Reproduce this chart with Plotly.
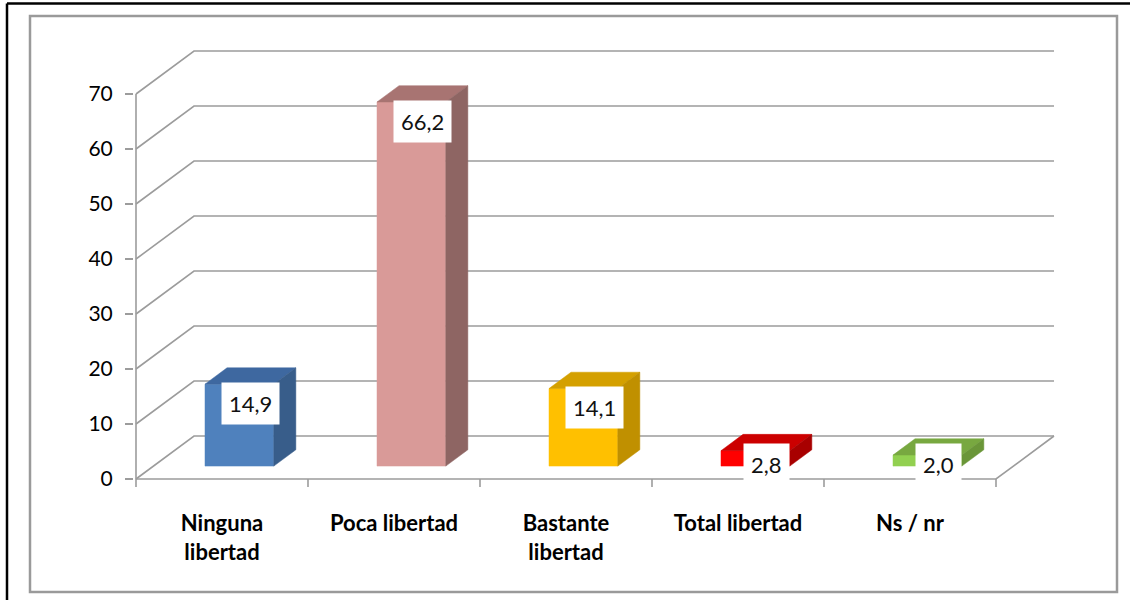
import plotly.graph_objects as go

# ---------------- data ----------------
categories = ["Ninguna<br>libertad", "Poca libertad", "Bastante<br>libertad", "Total libertad", "Ns / nr"]
values = [14.9, 66.2, 14.1, 2.8, 2.0]
value_labels = ["14,9", "66,2", "14,1", "2,8", "2,0"]
y_ticks = [0, 10, 20, 30, 40, 50, 60, 70]

front_colors = ["#4F81BD", "#D99A98", "#FFC000", "#FF0000", "#92D050"]
top_colors = ["#3E68A0", "#A87472", "#D4A000", "#CC0000", "#78A840"]
side_colors = ["#385D8A", "#8E6563", "#C09000", "#A80000", "#6A9638"]

# ---------------- geometry (pixels -> axis units) ----------------
W, H = 1130, 600
PX0, PY0 = 136, 479          # pixel position of x=0, y=0 (front plane)
UX, UY = 172.0, 5.5          # pixels per category, pixels per value unit
DX, DY = 58 / UX, 43 / UY    # wall depth offset in axis units
BAR_D0, BAR_D1 = 0.30, 0.68  # bar front / back depth as fraction of wall depth
GAP, BW = 0.30, 0.40         # bar left gap / width inside category
GRID = "#9C9C9C"
FONT = "Lato, Carlito, Calibri, sans-serif"

plot_l, plot_r = 134, 1058
plot_t, plot_b = 50, 488
xr = [(plot_l - PX0) / UX, (plot_r - PX0) / UX]
yr = [(PY0 - plot_b) / UY, (PY0 - plot_t) / UY]

n = len(categories)
fig = go.Figure()

# walls / gridlines
gx, gy = [], []
for v in y_ticks:
    gx += [0, DX, n + DX, None]
    gy += [v, v + DY, v + DY, None]
# floor front edge and right edge
gx += [0, n, n + DX, None]
gy += [0, 0, DY, None]
# vertical axis line (front)
gx += [0, 0, None]
gy += [0, max(y_ticks), None]
# category boundary ticks
for i in range(n + 1):
    gx += [i, i, None]
    gy += [0, -8 / UY, None]
fig.add_trace(go.Scatter(x=gx, y=gy, mode="lines", line=dict(color=GRID, width=1.6),
                         hoverinfo="skip", showlegend=False))

ddx = (BAR_D1 - BAR_D0) * DX
ddy = (BAR_D1 - BAR_D0) * DY
base = BAR_D0 * DY
for i, v in enumerate(values):
    x0 = i + GAP + BAR_D0 * DX
    x1 = x0 + BW
    top = base + v
    faces = [
        ([x0, x1, x1, x0, x0], [base, base, top, top, base], front_colors[i]),
        ([x0, x1, x1 + ddx, x0 + ddx, x0], [top, top, top + ddy, top + ddy, top], top_colors[i]),
        ([x1, x1 + ddx, x1 + ddx, x1, x1], [base, base + ddy, top + ddy, top, base], side_colors[i]),
    ]
    for fx, fy, c in faces:
        fig.add_trace(go.Scatter(x=fx, y=fy, mode="lines", fill="toself", fillcolor=c,
                                 line=dict(color=c, width=0.5), hoverinfo="skip",
                                 showlegend=False))
    fig.add_annotation(x=(x0 + x1) / 2 + ddx / 2, y=max(top - 3.5, 2.6),
                       xref="x", yref="y", text=value_labels[i], showarrow=False,
                       bgcolor="white", borderpad=7,
                       font=dict(family=FONT, size=22, color="#111"))

# frames (paper coordinates derived from pixels)
pw, ph = plot_r - plot_l, plot_b - plot_t
def px(x):
    return (x - plot_l) / pw
def py(y):
    return (plot_b - y) / ph

fig.add_shape(type="rect", xref="paper", yref="paper", x0=px(30), x1=px(1117),
              y0=py(592), y1=py(16), line=dict(color="#9A9A9A", width=2.5))
fig.add_shape(type="line", xref="paper", yref="paper", x0=px(7), x1=px(1135),
              y0=py(3.5), y1=py(3.5), line=dict(color="black", width=2.5))
fig.add_shape(type="line", xref="paper", yref="paper", x0=px(7), x1=px(7),
              y0=py(3.5), y1=py(605), line=dict(color="black", width=2.5))

fig.update_xaxes(range=xr, tickvals=[i + 0.5 for i in range(n)], ticktext=categories,
                 showgrid=False, zeroline=False, showline=False, ticks="",
                 ticklabelstandoff=20,
                 tickfont=dict(family=FONT, size=22, color="black", weight="bold"),
                 fixedrange=True)
fig.update_yaxes(range=yr, tickvals=y_ticks, showgrid=False, zeroline=False,
                 showline=False, ticks="outside", ticklen=8, tickcolor=GRID, tickwidth=1.6,
                 ticklabelstandoff=8,
                 tickfont=dict(family=FONT, size=21, color="black"), fixedrange=True)

fig.update_layout(width=W, height=H, margin=dict(l=plot_l, r=W - plot_r, t=plot_t, b=H - plot_b),
                  plot_bgcolor="white", paper_bgcolor="white", showlegend=False)

fig.write_html("out.html", config={"displayModeBar": False},
               post_script="document.body.style.margin='0';document.body.style.overflow='hidden';")
